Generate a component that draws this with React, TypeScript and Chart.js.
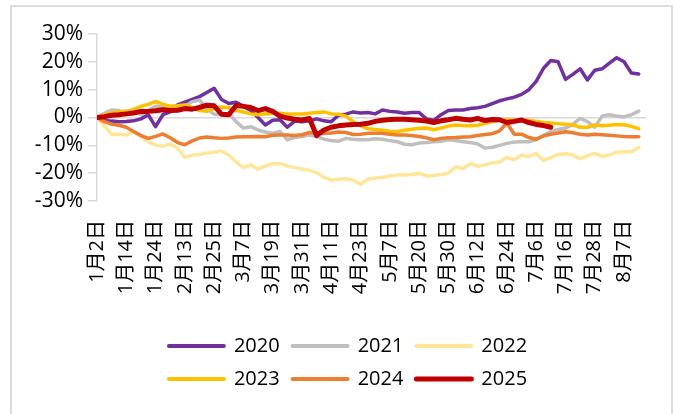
import React, { useEffect, useRef } from 'react';
import { Chart, registerables } from 'chart.js';

Chart.register(...registerables);

const FONT = "'Open Sans', 'Noto Sans CJK SC', sans-serif";

const tickLabels = [
  '1月2日', '1月14日', '1月24日', '2月13日', '2月25日', '3月7日', '3月19日', '3月31日', '4月11日', '4月23日',
  '5月7日', '5月20日', '5月30日', '6月12日', '6月24日', '7月6日', '7月16日', '7月28日', '8月7日',
];
const TICK_EVERY = 8; // trading days between tick labels
const STEP = 2; // trading days between stored values
const X_MAX = 150;

const years = ['2020', '2021', '2022', '2023', '2024', '2025'];
const colors = ['#7030A0', '#BFBFBF', '#FFE699', '#FFC000', '#ED7D31', '#C00000'];

const s2020 = [
  0, -1.0, -1.3, -1.5, -1.4,
  -1.2, -0.5, 1.0, -3.3, 1.0,
  2.0, 4.5, 5.5, 6.5, 7.5,
  9.0, 10.5, 6.5, 5.0, 5.5,
  4.0, 2.5, 0.0, -2.7, -1.0,
  -0.8, -3.5, -1.3, -1.5, -1.2,
  -0.5, -1.2, -1.5, 0.8, 1.2,
  2.0, 1.6, 1.8, 1.3, 2.7,
  2.2, 2.0, 1.5, 1.8, 1.8,
  -0.5, -1.0, 1.0, 2.5, 2.7,
  2.7, 3.2, 3.5, 4.0, 5.0,
  6.0, 6.7, 7.3, 8.3, 10.0,
  13.0, 17.7, 20.5, 20.0, 13.7,
  15.5, 17.5, 13.5, 17.0, 17.5,
  19.5, 21.5, 20.0, 16.0, 15.6,
];
const s2021 = [
  0, 1.5, 2.7, 2.5, 1.5,
  3.0, 1.0, 2.5, 4.0, 4.0,
  2.7, 3.2, 4.0, 5.7, 6.3,
  3.0, 1.2, 1.0, 1.5, -1.5,
  -3.8, -3.3, -4.5, -5.2, -5.7,
  -5.0, -8.0, -7.2, -6.8, -6.3,
  -6.8, -7.8, -8.3, -8.5, -7.5,
  -7.8, -8.0, -8.0, -7.6, -7.8,
  -8.3, -8.7, -9.6, -9.8, -9.2,
  -9.0, -8.7, -8.5, -8.0, -8.3,
  -8.7, -9.0, -9.5, -11.0, -10.7,
  -10.0, -9.3, -8.8, -8.7, -8.7,
  -8.0, -6.5, -5.0, -4.3, -3.8,
  -2.5, -0.3, -1.5, -3.5, 0.5,
  1.0, 0.5, 0.2, 1.0, 2.3,
];
const s2022 = [
  0, -3.0, -6.0, -6.0, -6.3,
  -5.0, -6.9, -8.7, -9.9, -10.3,
  -9.5, -11.0, -14.3, -13.5, -13.3,
  -12.8, -12.5, -12.0, -13.5, -16.0,
  -18.0, -17.0, -18.5, -17.5, -16.5,
  -16.6, -17.5, -18.0, -18.5, -19.0,
  -19.8, -21.5, -22.5, -22.2, -22.0,
  -22.5, -24.0, -22.2, -21.8, -21.5,
  -21.0, -20.7, -20.7, -20.5, -20.0,
  -21.0, -20.8, -20.5, -20.0, -17.7,
  -18.3, -16.6, -17.5, -17.0, -16.3,
  -16.0, -14.3, -15.2, -13.5, -14.0,
  -12.9, -15.5, -14.3, -13.3, -13.0,
  -13.5, -14.8, -13.8, -12.9, -14.0,
  -13.5, -12.5, -12.3, -12.3, -10.8,
];
const s2023 = [
  0, 1.0, 1.7, 2.0, 2.3,
  2.8, 4.0, 4.7, 5.7, 4.8,
  4.0, 4.2, 4.5, 3.6, 2.5,
  2.2, 3.3, 3.8, 3.5, 2.5,
  2.0, 1.3, 1.0, 1.3, 1.5,
  1.5, 1.3, 1.3, 1.3, 1.5,
  1.8, 2.0, 1.3, 1.2, 0.5,
  -1.5, -3.0, -4.0, -4.3, -4.6,
  -4.9, -5.0, -4.6, -4.2, -3.9,
  -3.8, -4.4, -3.8, -3.1, -2.7,
  -2.9, -3.0, -2.8, -2.2, -1.5,
  -1.0, -0.9, -0.9, -1.0, -1.0,
  -1.4, -1.8, -2.0, -2.2, -2.4,
  -2.6, -3.5, -3.5, -2.7, -3.0,
  -2.8, -2.5, -2.6, -3.2, -4.0,
];
const s2024 = [
  0, -1.5, -2.4, -2.8, -3.5,
  -5.0, -6.5, -7.5, -6.8, -5.9,
  -7.3, -9.0, -9.8, -8.4, -7.4,
  -7.0, -7.3, -7.5, -7.4, -7.0,
  -6.9, -6.9, -6.8, -6.9, -6.4,
  -6.3, -6.3, -6.5, -6.2, -5.4,
  -5.6, -5.7, -5.6, -5.2, -5.4,
  -6.1, -6.0, -5.7, -5.7, -5.7,
  -6.0, -6.3, -6.3, -6.5, -6.8,
  -7.3, -8.0, -7.5, -7.3, -7.2,
  -7.0, -6.9, -6.5, -6.1, -5.8,
  -4.8, -2.0, -6.0, -6.0, -7.2,
  -7.8, -6.6, -6.0, -5.6, -5.1,
  -5.5, -6.0, -6.3, -6.0, -6.2,
  -6.4, -6.6, -6.8, -6.9, -6.9,
];
const s2025 = [
  0, 0.3, 0.8, 1.0, 1.3,
  1.6, 2.2, 2.2, 2.4, 2.8,
  2.5, 2.6, 3.2, 3.0, 3.6,
  4.4, 4.2, 1.2, 1.0, 4.3,
  4.0, 3.6, 2.5, 3.2, 2.2,
  0.5, -0.2, -0.6, -0.9, -0.3,
  -6.5, -4.5, -3.5, -3.0, -2.7,
  -2.5, -2.4, -2.1, -1.4, -1.0,
  -0.7, -0.6, -0.6, -0.8, -1.0,
  -1.3, -1.8, -1.2, -0.8, -0.3,
  -0.6, -0.9, -0.3, -1.1, -0.7,
  -0.8, -1.8, -1.4, -0.9, -1.8,
  -2.5, -2.9, -3.5,
];

const seriesList = [s2020, s2021, s2022, s2023, s2024, s2025];

// Caps the width the legend may use for its rows (3 items per row) and nudges it right.
const legendCap = {
  id: 'legendCap',
  beforeLayout(chart: any) {
    const lg = chart.legend;
    if (lg && !lg.__capped) {
      const orig = lg.update.bind(lg);
      lg.update = (w: number, h: number, m: any) => orig(Math.min(w, 420), h, m);
      lg.__capped = true;
    }
  },
  afterLayout(chart: any) {
    const lg = chart.legend;
    if (lg) {
      lg.left += 15;
      lg.right += 15;
    }
  },
};

export default function App() {
  const ref = useRef<HTMLCanvasElement>(null);

  useEffect(() => {
    if (!ref.current) return;
    const chart = new Chart(ref.current, {
      type: 'line',
      data: {
        datasets: seriesList.map((vals, i) => ({
          label: years[i],
          data: vals.map((y, j) => ({ x: j * STEP, y })),
          borderColor: colors[i],
          backgroundColor: colors[i],
          borderWidth: i === 5 ? 5 : 3.5,
          pointRadius: 0,
          pointHoverRadius: 0,
          tension: 0,
          order: 5 - i,
          borderJoinStyle: 'round',
          borderCapStyle: 'round',
        })),
      },
      options: {
        responsive: false,
        animation: false,
        devicePixelRatio: 1,
        layout: { padding: { left: 20, right: 30, top: 34, bottom: 15 } },
        plugins: {
          tooltip: { enabled: false },
          legend: {
            position: 'bottom',
            labels: {
              font: { family: FONT, size: 20 },
              color: '#000',
              usePointStyle: true,
              pointStyleWidth: 55,
              boxWidth: 55,
              padding: 13,
              sort: (a: any, b: any) => a.datasetIndex - b.datasetIndex,
              generateLabels: () =>
                years.map((y, i) => ({
                  text: y,
                  datasetIndex: i,
                  pointStyle: 'line',
                  strokeStyle: colors[i],
                  fillStyle: colors[i],
                  lineWidth: i === 5 ? 5 : 4,
                  lineCap: 'round',
                  hidden: false,
                  fontColor: '#000',
                })) as any,
            },
          },
        },
        scales: {
          x: {
            type: 'linear',
            min: 0,
            max: X_MAX,
            afterFit: (s: any) => {
              s.height = 122;
            },
            grid: { display: false, drawTicks: false },
            border: { display: false },
            ticks: {
              stepSize: TICK_EVERY,
              autoSkip: false,
              includeBounds: false,
              maxRotation: 90,
              minRotation: 90,
              padding: 19,
              color: '#000',
              font: { family: FONT, size: 20 },
              callback: (v: any) => {
                const n = Number(v);
                return n % TICK_EVERY === 0 ? tickLabels[n / TICK_EVERY] ?? '' : '';
              },
            },
          },
          y: {
            min: -30,
            max: 30,
            afterFit: (s: any) => {
              s.width = 77;
            },
            grid: {
              color: (c: any) => (c.tick && c.tick.value === 0 ? '#d9d9d9' : 'rgba(0,0,0,0)'),
              tickColor: '#d9d9d9',
              tickLength: 9,
              lineWidth: 1.5,
            },
            border: { display: true, color: '#d9d9d9', width: 1.5 },
            ticks: {
              stepSize: 10,
              autoSkip: false,
              padding: 5,
              color: '#000',
              font: { family: FONT, size: 21 },
              callback: (v: any) => `${v}%`,
            },
          },
        },
      },
      plugins: [legendCap as any],
    });
    return () => chart.destroy();
  }, []);

  return (
    <div style={{ position: 'fixed', left: 0, top: 0, width: 676, height: 414, background: '#fff', overflow: 'hidden' }}>
      <div
        style={{
          position: 'absolute',
          left: 10,
          top: 5,
          width: 663,
          height: 430,
          border: '2px solid #dcdcdc',
          borderBottom: 'none',
          boxSizing: 'border-box',
        }}
      />
      <canvas ref={ref} width={676} height={414} style={{ position: 'absolute', left: 0, top: 0 }} />
    </div>
  );
}
